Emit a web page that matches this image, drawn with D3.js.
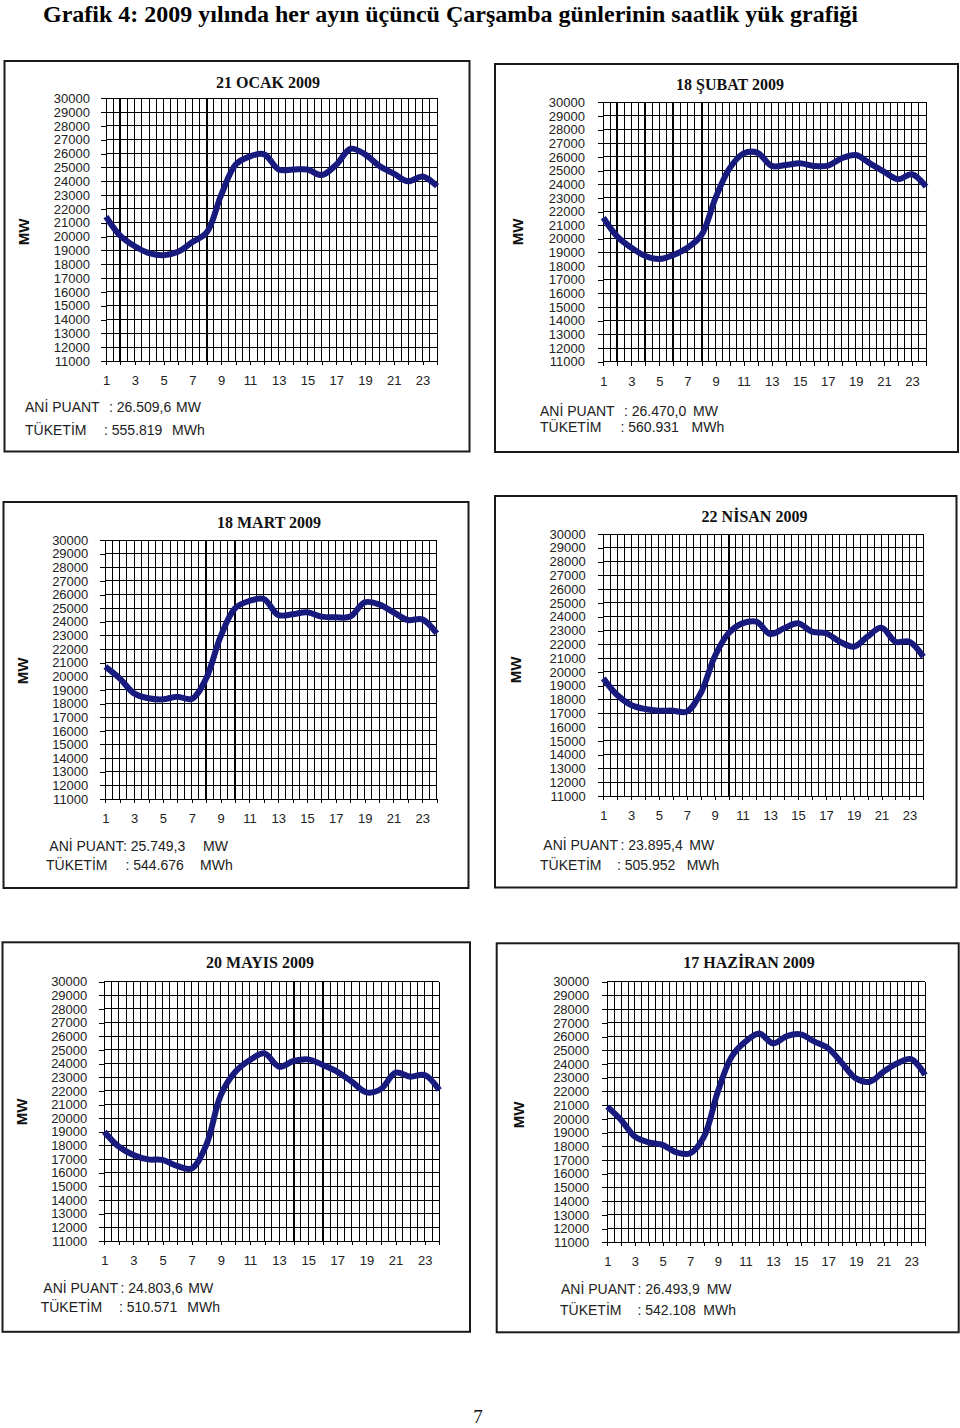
<!DOCTYPE html>
<html><head><meta charset="utf-8">
<script src="https://cdn.jsdelivr.net/npm/d3@7"></script>
<style>
body{margin:0;background:#fff}
svg{display:block}
</style>
</head><body>
<svg id="c" width="960" height="1428"></svg>
<script>
// ---------------- DATA ----------------
const pageTitle = "Grafik 4: 2009 yılında her ayın üçüncü Çarşamba günlerinin saatlik yük grafiği";
const pageNumber = "7";
const hours = d3.range(1, 25);
const xTickLabels = [1, 3, 5, 7, 9, 11, 13, 15, 17, 19, 21, 23];
const yTicks = d3.range(11000, 30001, 1000);
const yLabel = "MW";
const titles = ["21 OCAK 2009", "18 ŞUBAT 2009", "18 MART 2009", "22 NİSAN 2009", "20 MAYIS 2009", "17 HAZİRAN 2009"];
const aniPuant = ["26.509,6", "26.470,0", "25.749,3", "23.895,4", "24.803,6", "26.493,9"];
const tuketim = ["555.819", "560.931", "544.676", "505.952", "510.571", "542.108"];

const ocak    = [21450,20050,19300,18800,18650,18900,19600,20300,23000,25200,25800,25950,24850,24850,24850,24450,25200,26350,25950,25100,24550,24000,24350,23650];
const subat   = [21550,20160,19350,18740,18520,18820,19350,20280,23000,25160,26260,26300,25340,25400,25530,25340,25360,25900,26140,25530,24920,24360,24730,23820];
const mart    = [20710,19850,18750,18390,18310,18510,18340,19850,22910,24990,25530,25670,24500,24550,24700,24380,24330,24380,25430,25280,24700,24130,24180,23150];
const nisan   = [19530,18320,17600,17310,17190,17190,17120,18450,21100,22800,23520,23640,22750,23160,23520,22920,22800,22190,21830,22560,23210,22190,22190,21100];
const mayis   = [19010,17910,17300,16980,16940,16500,16320,18030,21700,23400,24260,24750,23770,24190,24310,23900,23400,22670,21890,22140,23330,23040,23160,22060];
const haziran = [20890,19920,18700,18290,18100,17560,17490,18700,21980,24530,25630,26230,25500,26040,26160,25630,25140,24050,22950,22710,23440,24050,24360,23200];
const seriesList = [ocak, subat, mart, nisan, mayis, haziran];

// ---------------- LAYOUT / STYLE ----------------
const layout = [
  {frame:[4.5,61,465,390.5], plot:[106,98.3,437,361], title:[268,87.5], mw:[24,232], yLab:90,
   f1:{y:411.5,x:[25,109,176]}, f2:{y:434.5,x:[25,104,172]}, heavy:[2,8]},
  {frame:[495,64,463,388], plot:[603.3,102.3,926,361.7], title:[730,90], mw:[518,232], yLab:585,
   f1:{y:416,x:[540,624,693]}, f2:{y:432,x:[540,620.5,691.5]}, heavy:[2,4,6,8]},
  {frame:[3.5,502,465,386], plot:[105.3,540,436.7,799], title:[269,527.7], mw:[22.5,671], yLab:88.3,
   f1:{y:851,x:[49.3,123,203]}, f2:{y:870,x:[46,125.5,200]}, heavy:[8,10]},
  {frame:[495,496,461.5,391.5], plot:[603.3,534,923.3,796], title:[754.5,521.7], mw:[516,670], yLab:585.7,
   f1:{y:850,x:[543.3,620.5,689.3]}, f2:{y:870,x:[540,617,686.7]}, heavy:[10]},
  {frame:[2.5,942.3,467.5,389.5], plot:[104.3,981.7,439.3,1241], title:[260,968.3], mw:[22,1112], yLab:87.3,
   f1:{y:1292.7,x:[43.3,120.5,188.3]}, f2:{y:1311.7,x:[40.7,119,187.3]}, heavy:[14,16]},
  {frame:[496.7,943.3,462,389], plot:[607.3,981.7,925,1242.3], title:[749,968.3], mw:[519,1115], yLab:589.3,
   f1:{y:1294.3,x:[561,637.5,706.7]}, f2:{y:1315,x:[560,637.5,703.3]}, heavy:[]}
];
const lineColor = "#191a7e";
const sans = "'Liberation Sans', Arial, sans-serif";
const serif = "'Liberation Serif', 'Times New Roman', serif";

const svg = d3.select("#c");

svg.append("text")
  .attr("x", 43).attr("y", 21.5)
  .attr("font-family", serif).attr("font-weight", "bold").attr("font-size", 24)
  .attr("fill", "#000")
  .text(pageTitle);

svg.append("text")
  .attr("x", 478).attr("y", 1423).attr("text-anchor", "middle")
  .attr("font-family", serif).attr("font-size", 19).attr("fill", "#111")
  .text(pageNumber);

seriesList.forEach((vals, i) => {
  const L = layout[i];
  const [px0, py0, px1, py1] = L.plot;
  const g = svg.append("g");

  // frame
  g.append("rect")
    .attr("x", L.frame[0]).attr("y", L.frame[1])
    .attr("width", L.frame[2]).attr("height", L.frame[3])
    .attr("fill", "#fff").attr("stroke", "#1a1a1a").attr("stroke-width", 2);

  const x = d3.scaleLinear().domain([1, 24]).range([px0, px1]);
  const y = d3.scaleLinear().domain([11000, 30000]).range([py1, py0]);

  // grid: vertical half-hour lines and horizontal 1000 MW lines
  const grid = g.append("g").attr("stroke", "#000").attr("stroke-width", 1).attr("shape-rendering", "crispEdges");
  grid.selectAll("line.v").data(d3.range(1, 24.01, 0.5)).join("line")
    .attr("x1", d => x(d)).attr("x2", d => x(d))
    .attr("y1", py0).attr("y2", py1)
    .attr("stroke-width", d => L.heavy.includes(d) ? 2 : 1);
  grid.selectAll("line.h").data(yTicks).join("line")
    .attr("x1", px0).attr("x2", px1)
    .attr("y1", d => y(d)).attr("y2", d => y(d));

  // y axis
  const tickLen = 5;
  const yAxis = d3.axisLeft(y).tickValues(yTicks).tickSize(tickLen)
    .tickPadding(px0 - tickLen - L.yLab).tickFormat(d3.format("d"));
  const ya = g.append("g").attr("transform", `translate(${px0},0)`).call(yAxis);
  ya.select(".domain").remove();
  ya.selectAll("line").attr("stroke", "#000").attr("shape-rendering", "crispEdges");
  ya.selectAll("text").attr("font-family", sans).attr("font-size", 13).attr("fill", "#222");

  // x axis
  const xAxis = d3.axisBottom(x).tickValues(hours).tickSize(4).tickPadding(10.8)
    .tickFormat(d => xTickLabels.includes(d) ? d : "");
  const xa = g.append("g").attr("transform", `translate(0,${py1})`).call(xAxis);
  xa.select(".domain").remove();
  xa.selectAll("line").attr("stroke", "#000").attr("shape-rendering", "crispEdges");
  xa.selectAll("text").attr("font-family", sans).attr("font-size", 13).attr("fill", "#222");

  // title
  g.append("text")
    .attr("x", L.title[0]).attr("y", L.title[1]).attr("text-anchor", "middle")
    .attr("font-family", serif).attr("font-weight", "bold").attr("font-size", 16)
    .attr("fill", "#111").text(titles[i]);

  // MW label
  g.append("text")
    .attr("transform", `translate(${L.mw[0]},${L.mw[1]}) rotate(-90)`)
    .attr("text-anchor", "middle").attr("dy", "0.35em")
    .attr("font-family", sans).attr("font-weight", "bold").attr("font-size", 15)
    .attr("fill", "#111").text(yLabel);

  // line
  const line = d3.line()
    .x((d, j) => x(hours[j]))
    .y(d => y(d))
    .curve(d3.curveCatmullRom.alpha(0.5));
  g.append("path").datum(vals)
    .attr("d", line)
    .attr("fill", "none").attr("stroke", lineColor)
    .attr("stroke-width", 6).attr("stroke-linejoin", "round").attr("stroke-linecap", "butt");

  // footer
  const foot = [
    {pos: L.f1, parts: ["ANİ PUANT", ": " + aniPuant[i], "MW"]},
    {pos: L.f2, parts: ["TÜKETİM", ": " + tuketim[i], "MWh"]}
  ];
  foot.forEach(f => {
    f.parts.forEach((t, k) => {
      g.append("text")
        .attr("x", f.pos.x[k]).attr("y", f.pos.y)
        .attr("font-family", sans).attr("font-size", 14).attr("fill", "#222")
        .text(t);
    });
  });
});
</script>
</body></html>
